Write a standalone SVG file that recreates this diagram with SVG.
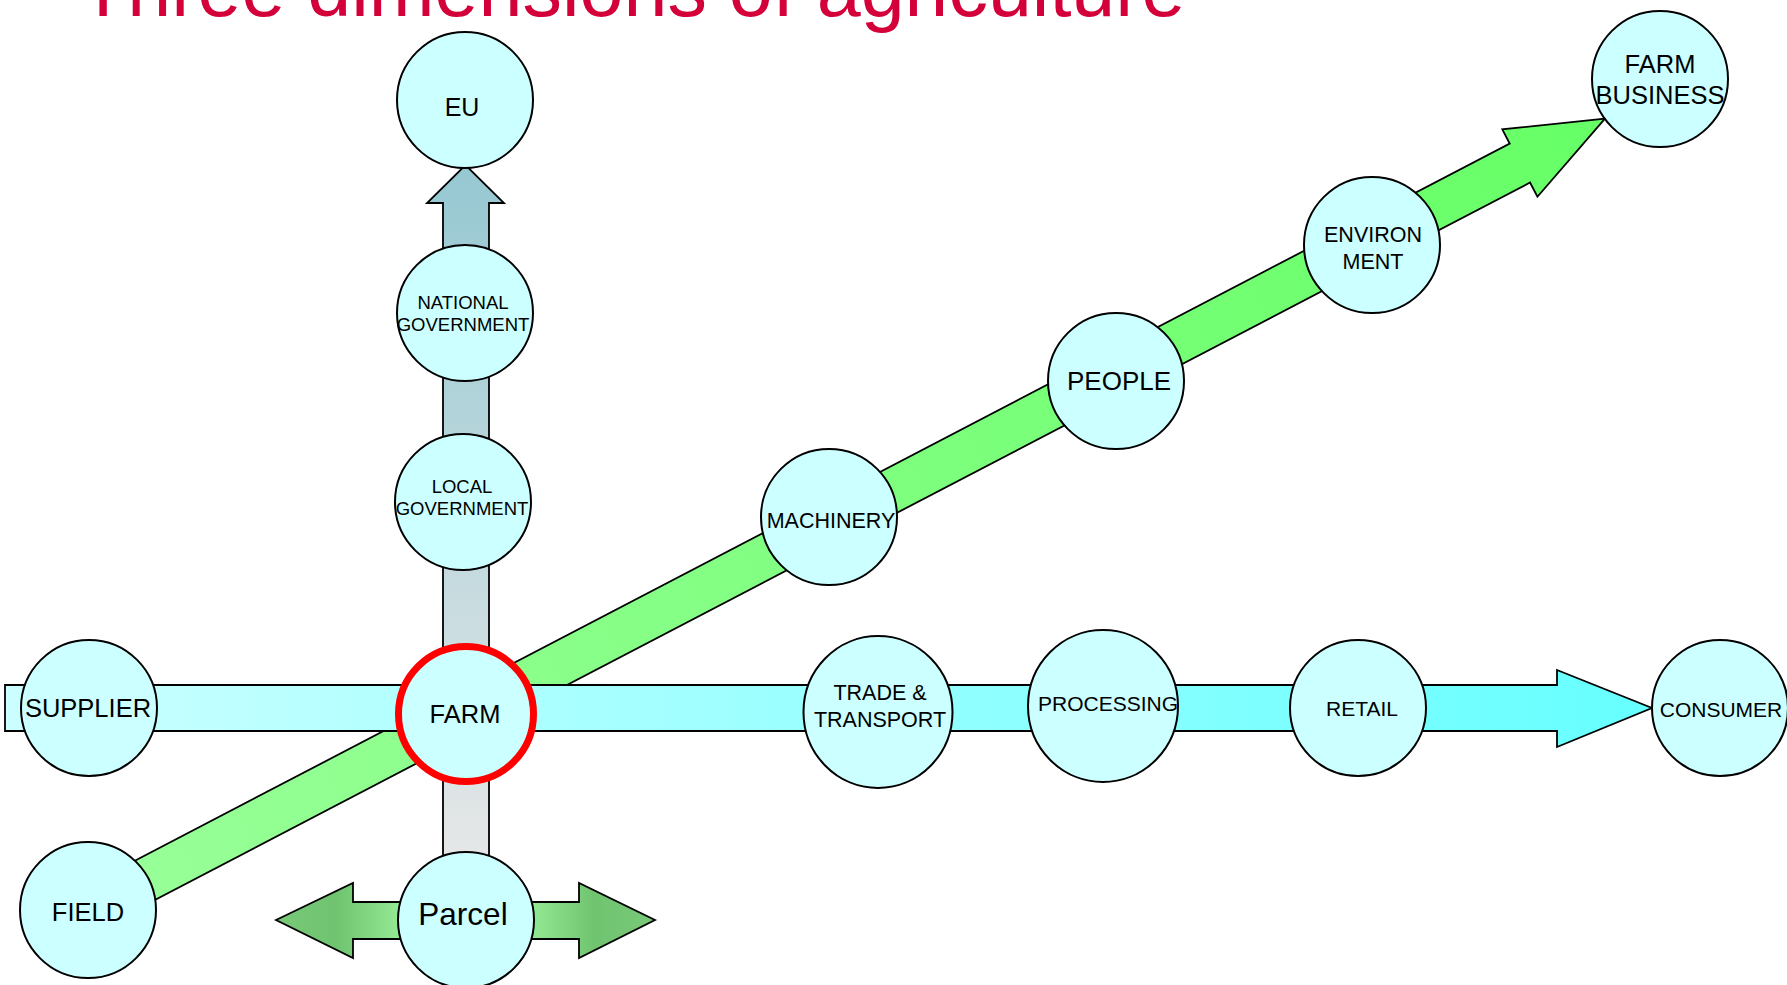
<svg xmlns="http://www.w3.org/2000/svg" width="1787" height="985" viewBox="0 0 1787 985">
<style>
.node{fill:#ccffff;stroke:#000;stroke-width:2}
.arr{stroke:#000;stroke-width:1.8;stroke-linejoin:miter}
text{font-family:"Liberation Sans",Arial,sans-serif;fill:#000;text-anchor:middle}
.title{fill:#d4003a;text-anchor:start;font-size:79px}
</style>
<defs>
<linearGradient id="gVert" gradientUnits="userSpaceOnUse" x1="0" y1="880" x2="0" y2="165">
<stop offset="0" stop-color="#e8e8e8"/>
<stop offset="1" stop-color="#96c8d2"/>
</linearGradient>
<linearGradient id="gHor" gradientUnits="userSpaceOnUse" x1="5" y1="0" x2="1652" y2="0">
<stop offset="0" stop-color="#ccffff"/>
<stop offset="1" stop-color="#66ffff"/>
</linearGradient>
<linearGradient id="gDiag" gradientUnits="userSpaceOnUse" x1="0" y1="0" x2="1711" y2="0">
<stop offset="0" stop-color="#99ff99"/>
<stop offset="1" stop-color="#66ff66"/>
</linearGradient>
<linearGradient id="gParcel" gradientUnits="userSpaceOnUse" x1="276" y1="0" x2="655" y2="0">
<stop offset="0" stop-color="#78c878"/>
<stop offset="0.16" stop-color="#70c470"/>
<stop offset="0.35" stop-color="#99ee99"/>
<stop offset="0.65" stop-color="#99ee99"/>
<stop offset="0.84" stop-color="#70c470"/>
<stop offset="1" stop-color="#78c878"/>
</linearGradient>
</defs>

<text class="title" x="79" y="16">Three dimensions of agriculture</text>

<g id="connectors">
<path id="arrow-vertical" class="arr" fill="url(#gVert)" d="M443,880 L443,203 L427,203 L465.5,165 L504,203 L489,203 L489,880 Z"/>
<g id="arrow-diagonal" transform="translate(88,910) rotate(-27.55)">
<path class="arr" fill="url(#gDiag)" d="M0,-22 L1615,-22 L1615,-38 L1711,0 L1615,38 L1615,22 L0,22 Z"/>
</g>
<path id="arrow-horizontal" class="arr" fill="url(#gHor)" d="M5,685 L1557,685 L1557,670 L1652,708 L1557,747 L1557,731 L5,731 Z"/>
<path id="arrow-parcel" class="arr" fill="url(#gParcel)" d="M276,920 L353,883 L353,902 L579,902 L579,883 L655,920 L579,958 L579,939 L353,939 L353,958 Z"/>
</g>

<g id="node-eu">
<circle class="node" cx="465" cy="100" r="68"/>
<text x="462" y="116" font-size="25">EU</text>
</g>
<g id="node-national">
<circle class="node" cx="465" cy="313" r="68"/>
<text x="463" y="309" font-size="18.5">NATIONAL</text>
<text x="463" y="331" font-size="18.5">GOVERNMENT</text>
</g>
<g id="node-local">
<circle class="node" cx="463" cy="502" r="68"/>
<text x="462" y="493" font-size="18.5">LOCAL</text>
<text x="462" y="515" font-size="18.5">GOVERNMENT</text>
</g>
<g id="node-farm">
<circle cx="466" cy="714" r="67.5" fill="#ccffff" stroke="#ff0000" stroke-width="7"/>
<text x="465" y="723" font-size="25.5">FARM</text>
</g>
<g id="node-parcel">
<circle class="node" cx="466" cy="920" r="68"/>
<text x="463" y="925" font-size="31.5">Parcel</text>
</g>
<g id="node-supplier">
<circle class="node" cx="89" cy="708" r="68"/>
<text x="88" y="717" font-size="25.5">SUPPLIER</text>
</g>
<g id="node-field">
<circle class="node" cx="88" cy="910" r="68"/>
<text x="88" y="921" font-size="25.5">FIELD</text>
</g>
<g id="node-machinery">
<circle class="node" cx="829" cy="517" r="68"/>
<text x="831" y="528" font-size="21.5">MACHINERY</text>
</g>
<g id="node-people">
<circle class="node" cx="1116" cy="381" r="68"/>
<text x="1119" y="390" font-size="26">PEOPLE</text>
</g>
<g id="node-environment">
<circle class="node" cx="1372" cy="245" r="68"/>
<text x="1373" y="242" font-size="21.5">ENVIRON</text>
<text x="1373" y="269" font-size="21.5">MENT</text>
</g>
<g id="node-farm-business">
<circle class="node" cx="1660" cy="79" r="68"/>
<text x="1660" y="73" font-size="25.5">FARM</text>
<text x="1660" y="104" font-size="25.5">BUSINESS</text>
</g>
<g id="node-trade">
<ellipse class="node" cx="878" cy="712" rx="74.5" ry="76"/>
<text x="880" y="700" font-size="21.5">TRADE &amp;</text>
<text x="880" y="727" font-size="21.5">TRANSPORT</text>
</g>
<g id="node-processing">
<ellipse class="node" cx="1103" cy="706" rx="75" ry="76"/>
<text x="1108" y="711" font-size="21">PROCESSING</text>
</g>
<g id="node-retail">
<circle class="node" cx="1358" cy="708" r="68"/>
<text x="1362" y="716" font-size="21">RETAIL</text>
</g>
<g id="node-consumer">
<circle class="node" cx="1720" cy="708" r="68"/>
<text x="1721" y="717" font-size="21">CONSUMER</text>
</g>
</svg>
